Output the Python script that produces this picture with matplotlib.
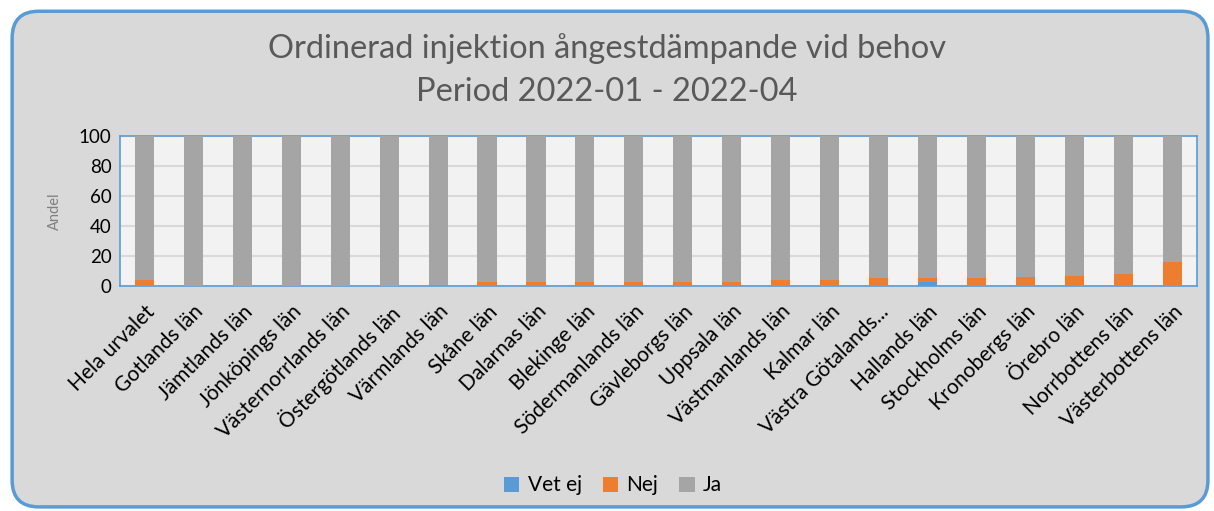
import matplotlib.pyplot as plt
from matplotlib.patches import FancyBboxPatch

plt.rcParams['font.family'] = ['Lato', 'DejaVu Sans']

lan = ['Hela urvalet', 'Gotlands län', 'Jämtlands län', 'Jönköpings län',
       'Västernorrlands län', 'Östergötlands län', 'Värmlands län', 'Skåne län',
       'Dalarnas län', 'Blekinge län', 'Södermanlands län', 'Gävleborgs län',
       'Uppsala län', 'Västmanlands län', 'Kalmar län', 'Västra Götalands...',
       'Hallands län', 'Stockholms län', 'Kronobergs län', 'Örebro län',
       'Norrbottens län', 'Västerbottens län']
vet_ej = [0, 0, 0, 0, 0, 0, 0, 0, 0, 0, 0, 0,
          0, 0, 0, 0, 2.7, 0, 0, 0, 0, 0]
nej = [4.0, 0, 0, 0, 0, 0, 0.6, 2.7, 2.7, 2.7, 2.7, 3.1,
       3.1, 4.0, 4.4, 5.1, 2.4, 5.1, 6.4, 6.9, 8.2, 15.8]
ja = [100 - a - b for a, b in zip(vet_ej, nej)]

c_vet = '#5b9bd5'
c_nej = '#ed7d31'
c_ja = '#a5a5a5'
frame_blue = '#5b9bd5'

fig = plt.figure(figsize=(12.14, 5.11), dpi=100)
fig.patch.set_facecolor('white')

# rounded chart-area frame like the Excel export
frame = FancyBboxPatch((0.010, 0.008), 0.985, 0.970,
                       boxstyle='round,pad=0,rounding_size=0.022',
                       transform=fig.transFigure, facecolor='#d9d9d9',
                       edgecolor=frame_blue, linewidth=2.5,
                       mutation_aspect=1214 / 511, zorder=-5)
fig.patches.append(frame)

ax = fig.add_axes([0.0988, 0.440, 0.887, 0.294])
ax.set_zorder(2)
ax.set_facecolor('#f2f2f2')

x = range(len(lan))
w = 0.39
ax.bar(x, vet_ej, w, color=c_vet, label='Vet ej', zorder=3)
ax.bar(x, nej, w, bottom=vet_ej, color=c_nej, label='Nej', zorder=3)
bottom2 = [a + b for a, b in zip(vet_ej, nej)]
ax.bar(x, ja, w, bottom=bottom2, color=c_ja, label='Ja', zorder=3)

ax.set_xlim(-0.5, len(lan) - 0.5)
ax.set_ylim(0, 100)
ax.set_yticks([0, 20, 40, 60, 80, 100])
ax.yaxis.grid(True, color='#d9d9d9', linewidth=1.5, zorder=0)
ax.set_axisbelow(True)
for s in ax.spines.values():
    s.set_color(frame_blue)
    s.set_linewidth(1.2)

ax.tick_params(axis='y', length=0, labelsize=13.5, pad=6)
ax.tick_params(axis='x', length=0, labelsize=15, pad=11)
ax.set_xticks(list(x))
ax.set_xticklabels(lan, rotation=45, ha='right', rotation_mode='anchor')
ax.set_ylabel('Andel', color='#7f7f7f', fontsize=10.5, labelpad=12)

fig.text(0.5, 0.905, 'Ordinerad injektion ångestdämpande vid behov',
         ha='center', va='center', fontsize=23.5, color='#595959')
fig.text(0.5, 0.820, 'Period 2022-01 - 2022-04',
         ha='center', va='center', fontsize=23.5, color='#595959')

fig.legend(loc='center', bbox_to_anchor=(0.505, 0.05), ncol=3, frameon=False,
           fontsize=15, handlelength=0.75, handleheight=0.75,
           handletextpad=0.4, columnspacing=1.0)

fig.savefig('out.png', dpi=100)
